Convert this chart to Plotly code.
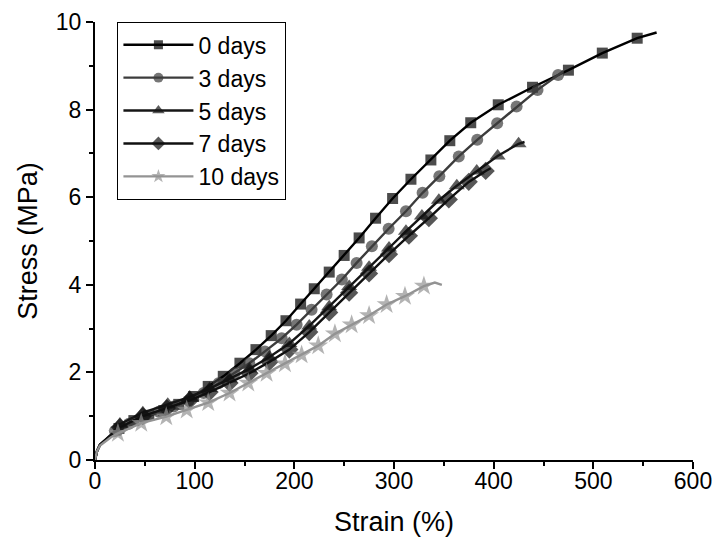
import plotly.graph_objects as go

# ---------------- data ----------------
series_names = ["0 days", "3 days", "5 days", "7 days", "10 days"]

strain_0d = [0, 2, 5, 10, 16, 24, 39, 54, 69, 84, 99, 113.6, 128.7, 145.4, 161.5, 176.8,
             191.6, 206.3, 220, 235, 250, 265, 281.5, 298.6, 317, 337, 356, 377, 404.6,
             439, 475, 509, 544, 563.5]
stress_0d = [0, 0.2, 0.35, 0.45, 0.56, 0.72, 0.90, 1.02, 1.13, 1.27, 1.45, 1.68, 1.91, 2.21,
             2.52, 2.84, 3.18, 3.56, 3.91, 4.29, 4.67, 5.07, 5.52, 5.97, 6.41, 6.85, 7.29,
             7.70, 8.11, 8.51, 8.90, 9.29, 9.63, 9.76]

strain_3d = [0, 2, 5, 10, 16, 20, 34, 49, 64, 79, 94, 109, 124, 140, 154.8, 170.5, 187.3,
             202.3, 217.3, 232.4, 247.7, 262.5, 277.8, 294.6, 312, 328.7, 345.5, 365, 383.5,
             403.5, 423, 444, 464.7, 470]
stress_3d = [0, 0.2, 0.35, 0.45, 0.56, 0.66, 0.83, 0.98, 1.10, 1.22, 1.36, 1.53, 1.75, 1.98,
             2.21, 2.48, 2.78, 3.09, 3.43, 3.78, 4.12, 4.50, 4.88, 5.28, 5.68, 6.10, 6.48,
             6.93, 7.31, 7.69, 8.07, 8.45, 8.79, 8.88]

strain_5d = [0, 2, 5, 10, 16, 25, 48, 73, 95, 115, 135, 155, 175, 195, 215, 235, 255, 275,
             295, 312, 328, 345, 363, 383, 404, 425, 431]
stress_5d = [0, 0.2, 0.35, 0.45, 0.56, 0.82, 1.08, 1.27, 1.44, 1.63, 1.85, 2.08, 2.35, 2.66,
             3.06, 3.50, 3.96, 4.40, 4.84, 5.22, 5.57, 5.93, 6.26, 6.60, 6.94, 7.22, 7.26]

strain_7d = [0, 2, 5, 10, 16, 25, 48, 72, 95, 115, 135, 155, 175, 195, 215, 235, 255, 275,
             295, 315, 335, 355, 375, 392, 397]
stress_7d = [0, 0.2, 0.35, 0.45, 0.56, 0.75, 1.00, 1.18, 1.36, 1.55, 1.76, 1.98, 2.24, 2.52,
             2.92, 3.37, 3.82, 4.26, 4.70, 5.12, 5.52, 5.95, 6.35, 6.60, 6.66]

strain_10d = [0, 2, 5, 10, 16, 23, 46.4, 71.5, 92, 113.6, 135, 153.8, 172.2, 190.6, 207.3,
              224, 240.7, 257.5, 275, 292.6, 311, 330, 341, 348]
stress_10d = [0, 0.2, 0.33, 0.42, 0.52, 0.61, 0.84, 0.99, 1.14, 1.31, 1.53, 1.76, 1.98, 2.20,
              2.40, 2.61, 2.88, 3.09, 3.30, 3.55, 3.74, 3.97, 4.05, 4.00]

x_ticks = [0, 100, 200, 300, 400, 500, 600]
y_ticks = [0, 2, 4, 6, 8, 10]

# ---------------- styles ----------------
colors = ["#000000", "#3c3c3c", "#161616", "#101010", "#939393"]
symbols = ["square", "circle", "triangle-up", "diamond", "star"]
msizes = [11, 12, 14, 14, 15]
skip_start = [5, 5, 5, 5, 5]
skip_end = [1, 1, 1, 1, 2]

xs = [strain_0d, strain_3d, strain_5d, strain_7d, strain_10d]
ys = [stress_0d, stress_3d, stress_5d, stress_7d, stress_10d]

FONT = "Liberation Sans, Arial, sans-serif"

fig = go.Figure()
for i, name in enumerate(series_names):
    n = len(xs[i])
    sizes = [0] * skip_start[i] + [msizes[i]] * (n - skip_start[i] - skip_end[i]) + [0] * skip_end[i]
    fig.add_trace(go.Scatter(
        x=xs[i], y=ys[i], name=name, mode="lines+markers",
        line=dict(color=colors[i], width=2.4),
        marker=dict(symbol=symbols[i], color=colors[i], size=sizes,
                    line=dict(width=0)),
    ))

axis_common = dict(
    showgrid=False, zeroline=False, showline=True, linecolor="black", linewidth=2,
    ticks="outside", ticklen=7, tickwidth=1.5, tickcolor="black",
    tickfont=dict(family=FONT, size=23, color="black"),
    mirror=False, automargin=False, ticklabeloverflow="allow",
)

fig.update_xaxes(range=[0, 600], tickvals=x_ticks, ticktext=[str(v) for v in x_ticks],
                 minor=dict(ticks="outside", dtick=50, ticklen=4, tickwidth=1.5, tickcolor="black"),
                 ticklabelstandoff=-8,
                 title=dict(text="Strain (%)", font=dict(family=FONT, size=27, color="black"), standoff=20),
                 **axis_common)
fig.update_yaxes(range=[0, 10], tickvals=y_ticks, ticktext=[str(v) for v in y_ticks],
                 minor=dict(ticks="outside", dtick=1, ticklen=4, tickwidth=1.5, tickcolor="black"),
                 title=dict(text="Stress (MPa)", font=dict(family=FONT, size=27, color="black"), standoff=10),
                 **axis_common)

fig.update_layout(
    width=715, height=552,
    margin=dict(l=95, r=22, t=22, b=92, autoexpand=False),
    paper_bgcolor="white", plot_bgcolor="white",
    font=dict(family=FONT, color="black"),
    legend=dict(
        x=0.037, y=1.0, xanchor="left", yanchor="top",
        bgcolor="white", bordercolor="black", borderwidth=1.3,
        font=dict(family=FONT, size=23, color="black"),
        itemwidth=70,
    ),
    showlegend=True,
)

# remove the browser's default 8px body margin so the 715x552 figure fills the window
fig.write_html("out.html",
               config={"displayModeBar": False},
               post_script="document.body.style.margin='0';document.body.style.overflow='hidden';")
